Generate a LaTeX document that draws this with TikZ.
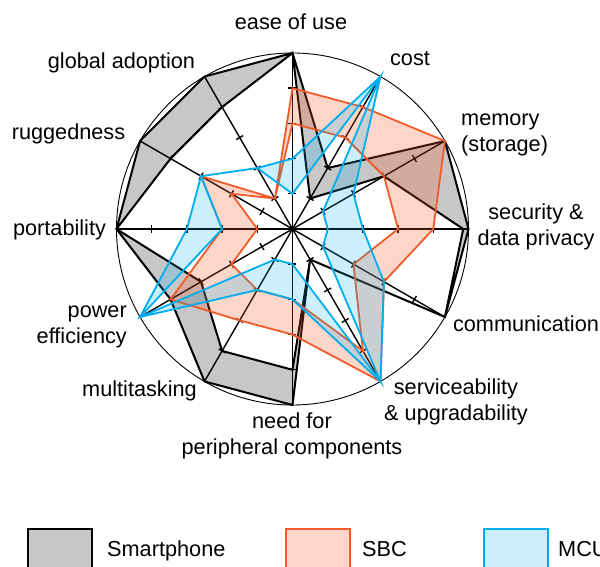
\documentclass[tikz,border=0pt]{standalone}
\usepackage{fontspec}
\setmainfont{Liberation Sans}
\usetikzlibrary{positioning}

\definecolor{sbcred}{RGB}{241,90,41}
\definecolor{mcublue}{RGB}{0,174,239}
\newcommand\lvl{35.2}
% one closed polygon over the 12 axes, first value on "ease of use"
\newcommand\ring[2]{(90:#1*\lvl) \foreach \v [count=\i] in {#2} {-- (90-30*\i:\v*\lvl)} -- cycle}

\begin{document}
\begin{tikzpicture}[x=1pt,y=1pt,
  axisline/.style={line width=1.4pt},
  ticmark/.style={line width=1.4pt},
  phone/.style={draw=black,line width=2pt,fill=black,fill opacity=0.22},
  sbc/.style={draw=sbcred,line width=1.8pt,fill=sbcred,fill opacity=0.25},
  mcu/.style={draw=mcublue,line width=1.8pt,fill=mcublue,fill opacity=0.2},
  lab/.style={font=\fontsize{21.7}{26}\selectfont,inner sep=0pt,align=center},
  legtext/.style={font=\fontsize{21.7}{26}\selectfont,inner sep=0pt,anchor=base west},
  legbox/.style={line width=2pt,minimum width=64pt,minimum height=48pt,inner sep=0pt,draw opacity=1}]
\coordinate (O) at (0,0);
\useasboundingbox (-292.5,-338) rectangle (307.5,229);
\clip (-292.5,-338) rectangle (307.5,229);

\draw[line width=0.9pt] (O) circle (176);
\foreach \ang in {90,60,...,-240} {
  \draw[axisline] (O) -- (\ang:176);
  \foreach \r in {1,...,4}
    \draw[ticmark,rotate=\ang] (\r*\lvl,-4) -- (\r*\lvl,4);
}

% max ring and min ring of each device
\filldraw[phone,even odd rule] \ring{5}{2,5,5,5,1,5,5,4,5,5,5} \ring{5}{1,3,4.85,5,1,4,4,3,5,4,4};
\filldraw[sbc,even odd rule] \ring{4}{4,5,4,3,5,3,3,4,2,3,1} \ring{3}{3,3,3,2,4,2,2,2,1,2,1};
\filldraw[mcu,even odd rule] \ring{2}{5,2,2,3,5,2,2,5,3,3,2} \ring{1}{5,1,1,1,5,1,1,5,2,3,2};

% axis labels
\node[lab,anchor=base] (lease) at (-1.5,199) {ease of use};
\node[lab,anchor=base] (lcost) at (117.5,163) {cost};
\node[lab,align=left,anchor=west] (lmem) at (168.5,93.6) {memory\\(storage)};
\node[lab] (lsec) at (243.5,2.6) {security \&\\data privacy};
\node[lab,anchor=base] (lcom) at (233.5,-103) {communication};
\node[lab] (lserv) at (163.5,-172.4) {serviceability\\\& upgradability};
\node[lab] (lperi) at (-0.5,-206.4) {need for\\peripheral components};
\node[lab,anchor=base] (lmulti) at (-153,-168) {multitasking};
\node[lab,align=right,anchor=east] (lpow) at (-165.5,-98.4) {power\\efficiency};
\node[lab,anchor=base] (lport) at (-233,-7) {portability};
\node[lab,anchor=base] (lrug) at (-224,89) {ruggedness};
\node[lab,anchor=base] (lglob) at (-171,160) {global adoption};

% legend
\node[legbox,draw=black,fill=black,fill opacity=0.22] (kphone) at (-232.5,-324) {};
\node[legtext] (tphone) at (-185.5,-327) {Smartphone};
\node[legbox,draw=sbcred,fill=sbcred,fill opacity=0.25] (ksbc) at (25.5,-324) {};
\node[legtext] (tsbc) at (69.5,-327) {SBC};
\node[legbox,draw=mcublue,fill=mcublue,fill opacity=0.2] (kmcu) at (223,-324) {};
\node[legtext] (tmcu) at (265.5,-327) {MCU};
\end{tikzpicture}
\end{document}
